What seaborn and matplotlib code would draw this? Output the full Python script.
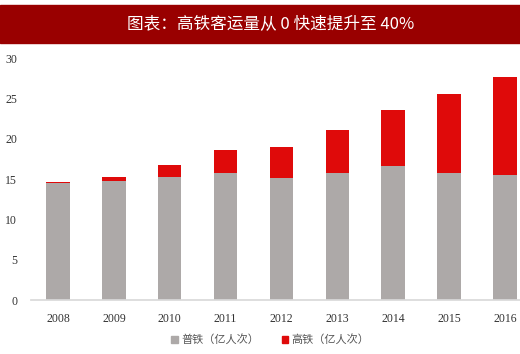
import matplotlib
matplotlib.use("Agg")
import matplotlib.pyplot as plt
import matplotlib.patches as mpatches
import seaborn as sns
import pandas as pd

years = ["2008", "2009", "2010", "2011", "2012", "2013", "2014", "2015", "2016"]
normal_rail = [14.45, 14.75, 15.3, 15.8, 15.15, 15.8, 16.6, 15.7, 15.45]
high_speed = [0.2, 0.5, 1.5, 2.8, 3.85, 5.3, 6.95, 9.8, 12.25]

gray = "#ADA9A8"
red = "#DF0A0A"

sns.set_theme(style="white")
plt.rcParams['font.family'] = ['Noto Sans CJK SC', 'DejaVu Sans']

df = pd.DataFrame({"year": years, "normal": normal_rail, "high": high_speed})
df["total"] = df["normal"] + df["high"]

fig = plt.figure(figsize=(5.2, 3.54), dpi=100)
ax = fig.add_axes([0.06, 0.1525, 0.94, 0.6835])

sns.barplot(data=df, x="year", y="total", color=red, width=0.42, saturation=1,
            linewidth=0, ax=ax)
sns.barplot(data=df, x="year", y="normal", color=gray, width=0.42, saturation=1,
            linewidth=0, ax=ax)

ax.set_xlim(-0.48, 8.27)
ax.set_ylim(0, 30)
ax.set_yticks([0, 5, 10, 15, 20, 25, 30])
ax.set_xlabel("")
ax.set_ylabel("")
for s in ["top", "right", "left"]:
    ax.spines[s].set_visible(False)
ax.spines["bottom"].set_color("#D9D9D9")
ax.tick_params(axis="both", length=0, labelsize=8.5, colors="#333333")
ax.tick_params(axis="x", pad=9)
ax.tick_params(axis="y", pad=10)
for lab in ax.get_xticklabels() + ax.get_yticklabels():
    lab.set_family("Liberation Serif")

# title banner
fig.patches.append(mpatches.Rectangle((0, 0.879), 1, 0.107, transform=fig.transFigure,
                                      color="#990000", zorder=0))
fig.text(0.52, 0.932, "图表：高铁客运量从 0 快速提升至 40%", color="white",
         ha="center", va="center", fontsize=12, fontweight="medium",
         family=['Noto Sans CJK SC', 'DejaVu Sans'])

handles = [mpatches.Patch(color=gray, label="普铁（亿人次）"),
           mpatches.Patch(color=red, label="高铁（亿人次）")]
fig.legend(handles=handles, loc="center", bbox_to_anchor=(0.52, 0.04), ncol=2,
           frameon=False, fontsize=8, handlelength=0.6, handleheight=0.6,
           handletextpad=0.3, columnspacing=2.0, labelcolor="#555555")

fig.savefig("out.png", dpi=100)
